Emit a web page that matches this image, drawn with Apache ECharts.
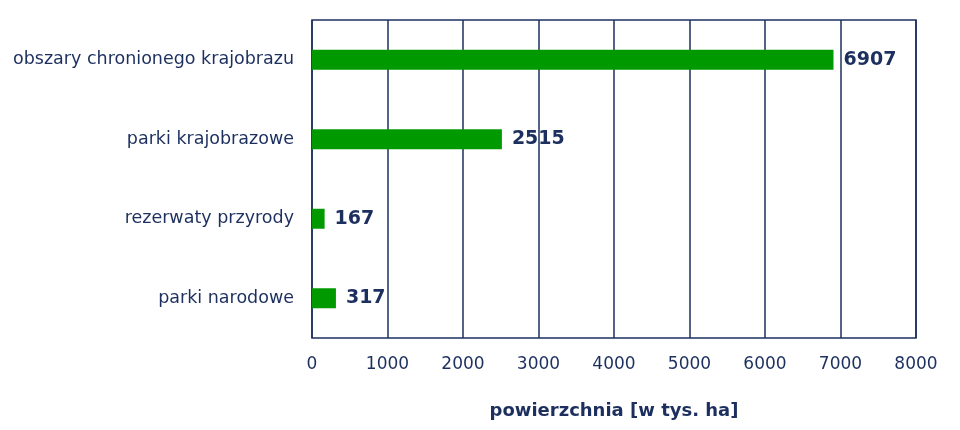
<!DOCTYPE html>
<html><head><meta charset="utf-8">
<script src="https://cdn.jsdelivr.net/npm/echarts@6/dist/echarts.min.js"></script>
<style>html,body{margin:0;padding:0;background:#fff}#c{width:960px;height:430px}</style>
</head><body><div id="c"></div>
<script>
const categories = ["parki narodowe", "rezerwaty przyrody", "parki krajobrazowe", "obszary chronionego krajobrazu"];
const values = [317, 167, 2515, 6907];
const xTicks = [0, 1000, 2000, 3000, 4000, 5000, 6000, 7000, 8000];
const navy = "#1c2f5e";
const chart = echarts.init(document.getElementById('c'));
chart.setOption({
  animation: false,
  grid: {left: 312, right: 44, top: 20, bottom: 92, show: true, borderColor: navy, borderWidth: 1.5},
  xAxis: {
    type: 'value', min: xTicks[0], max: xTicks[xTicks.length-1], interval: 1000,
    axisLine: {show: false}, axisTick: {show: false},
    splitLine: {lineStyle: {color: navy, width: 1.5}},
    axisLabel: {color: navy, fontFamily: 'DejaVu Sans', fontSize: 17, margin: 18, formatter: v => String(v)},
    name: 'powierzchnia [w tys. ha]', nameLocation: 'middle', nameGap: 64,
    nameTextStyle: {color: navy, fontFamily: 'DejaVu Sans', fontSize: 18, fontWeight: 'bold'}
  },
  yAxis: {
    type: 'category', data: categories,
    axisLine: {show: false}, axisTick: {show: false},
    axisLabel: {color: navy, fontFamily: 'DejaVu Sans', fontSize: 17.5, margin: 18}
  },
  series: [{
    type: 'bar', data: values, barWidth: 20,
    itemStyle: {color: '#009a00'},
    label: {show: true, position: 'right', distance: 10, color: navy, fontFamily: 'DejaVu Sans', fontSize: 19, fontWeight: 'bold'}
  }]
});
</script></body></html>
